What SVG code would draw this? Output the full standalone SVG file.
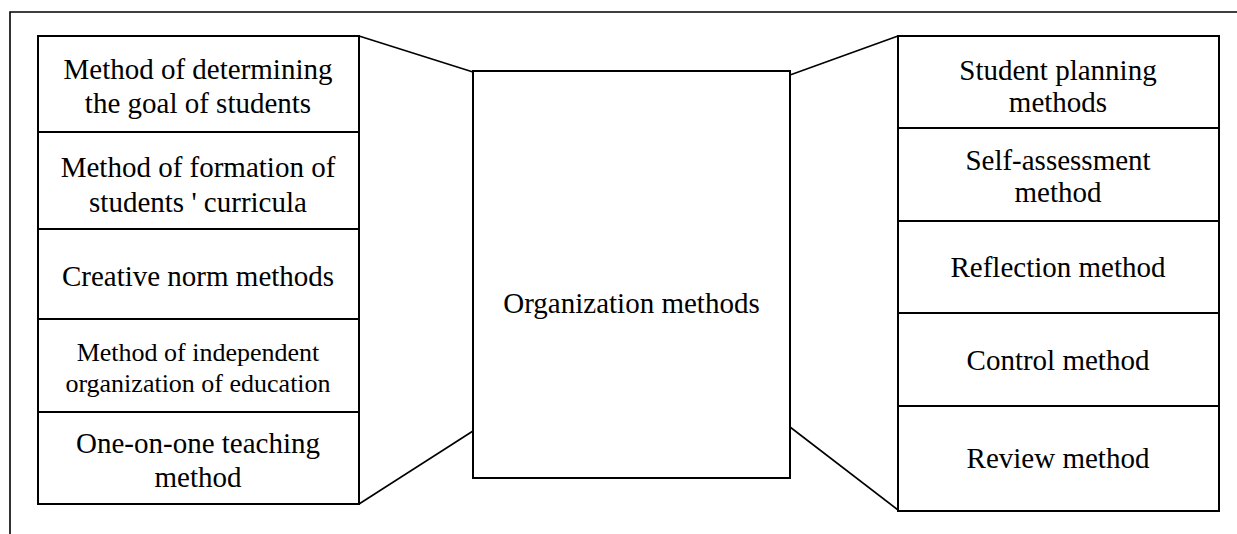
<svg xmlns="http://www.w3.org/2000/svg" width="1237" height="534" viewBox="0 0 1237 534">
<style>
.b{fill:#fff;stroke:#000;stroke-width:2}
.l{stroke:#000;stroke-width:1.6;fill:none}
.t{font-family:'Liberation Serif','Times New Roman',Tinos,'DejaVu Serif',serif;font-size:29px;fill:#000;text-anchor:middle}
.s{font-size:26px}
</style>
<rect width="1237" height="534" fill="#fff"/>
<g id="frame"><path class="l" d="M10,540 V12 H1245" stroke-width="2"/></g>
<g id="connectors">
<line class="l" x1="359" y1="36" x2="473" y2="72"/>
<line class="l" x1="359" y1="504" x2="473" y2="431"/>
<line class="l" x1="790" y1="75" x2="898" y2="36"/>
<line class="l" x1="790" y1="427" x2="898" y2="510"/>
</g>
<g class="t" font-family="Liberation Serif, Times New Roman, serif">
<g id="center"><rect class="b" x="473" y="71" width="317" height="407"/><text x="631.5" y="313">Organization methods</text></g>
<g id="l1"><rect class="b" x="38" y="36" width="321" height="96"/><text x="198" y="79">Method of determining</text><text x="198" y="113">the goal of students</text></g>
<g id="l2"><rect class="b" x="38" y="132" width="321" height="97"/><text x="198" y="177">Method of formation of</text><text x="198" y="212">students ' curricula</text></g>
<g id="l3"><rect class="b" x="38" y="229" width="321" height="90"/><text x="198" y="286">Creative norm methods</text></g>
<g id="l4"><rect class="b" x="38" y="319" width="321" height="93"/><text class="s" x="198" y="361">Method of independent</text><text class="s" x="198" y="392">organization of education</text></g>
<g id="l5"><rect class="b" x="38" y="412" width="321" height="92"/><text x="198" y="453">One-on-one teaching</text><text x="198" y="487">method</text></g>
<g id="r1"><rect class="b" x="898" y="36" width="321" height="92"/><text x="1058" y="80">Student planning</text><text x="1058" y="112">methods</text></g>
<g id="r2"><rect class="b" x="898" y="128" width="321" height="93"/><text x="1058" y="170">Self-assessment</text><text x="1058" y="202">method</text></g>
<g id="r3"><rect class="b" x="898" y="221" width="321" height="92"/><text x="1058" y="277">Reflection method</text></g>
<g id="r4"><rect class="b" x="898" y="313" width="321" height="93"/><text x="1058" y="370">Control method</text></g>
<g id="r5"><rect class="b" x="898" y="406" width="321" height="105"/><text x="1058" y="468">Review method</text></g>
</g>
</svg>
